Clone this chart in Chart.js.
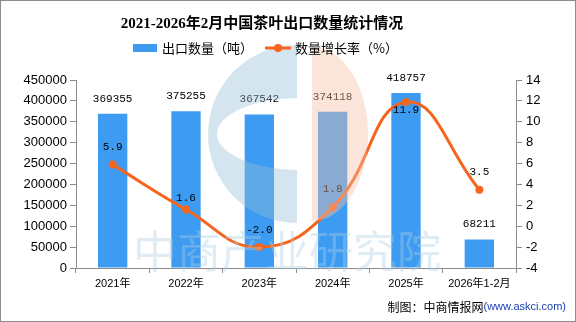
<!DOCTYPE html>
<html>
<head>
<meta charset="utf-8">
<script src="https://cdn.jsdelivr.net/npm/chart.js@4/dist/chart.umd.min.js"></script>
<style>
  html, body { margin: 0; padding: 0; background: #fff; }
  #wrap { width: 576px; height: 322px; }
</style>
</head>
<body>
<div id="wrap"><canvas id="chart" width="576" height="322"></canvas></div>
<script>
const categories = ['2021年', '2022年', '2023年', '2024年', '2025年', '2026年1-2月'];
const exportVolume = [369355, 375255, 367542, 374118, 418757, 68211];
const growthRate = [5.9, 1.6, -2.0, 1.8, 11.9, 3.5];
const growthLabels = ['5.9', '1.6', '-2.0', '1.8', '11.9', '3.5'];

// label offsets above the points (styling only)
const growthLabelLift = [18, 11, 17, 18, -8, 18];

const BAR_COLOR = '#3d9cf2';
const LINE_COLOR = '#f5651e';
const CJK = '"Noto Sans CJK SC"';

const overlay = {
  id: 'overlay',
  afterDatasetsDraw(chart) {
    const ctx = chart.ctx;
    ctx.save();
    ctx.fillStyle = '#000';
    ctx.textAlign = 'center';
    ctx.textBaseline = 'middle';
    ctx.font = '11px "Liberation Mono"';
    chart.getDatasetMeta(0).data.forEach((bar, i) => {
      ctx.fillText(String(exportVolume[i]), bar.x, bar.y - 15);
    });
    chart.getDatasetMeta(1).data.forEach((pt, i) => {
      ctx.fillText(growthLabels[i], pt.x, pt.y - growthLabelLift[i]);
    });
    ctx.restore();
  },
  afterDraw(chart) {
    const ctx = chart.ctx;
    ctx.save();

    // watermark logo: blue "C" on the left half
    ctx.save();
    ctx.beginPath();
    ctx.rect(0, 0, 297, 322);
    ctx.clip();
    ctx.fillStyle = 'rgba(150, 190, 215, 0.4)';
    ctx.beginPath();
    ctx.arc(297, 134, 89, 0, Math.PI * 2);
    ctx.ellipse(300, 134, 83, 36, 0, 0, Math.PI * 2, true);
    ctx.fill('evenodd');
    ctx.restore();

    ctx.fillStyle = 'rgba(245, 190, 165, 0.42)';
    ctx.beginPath();
    ctx.ellipse(312, 134, 56, 87, 0, -Math.PI / 2, Math.PI / 2, false);
    ctx.closePath();
    ctx.fill();

    // watermark text
    ctx.fillStyle = 'rgba(170, 204, 226, 0.38)';
    ctx.font = '44px ' + CJK;
    ctx.textAlign = 'center';
    ctx.textBaseline = 'middle';
    ctx.fillText('中商产业研究院', 287, 251);

    // title
    ctx.fillStyle = '#000';
    ctx.font = 'bold 15px "Liberation Serif", ' + CJK;
    ctx.fillText('2021-2026年2月中国茶叶出口数量统计情况', 262, 24);

    // legend
    ctx.fillStyle = BAR_COLOR;
    ctx.fillRect(133, 44, 24, 8);
    ctx.fillStyle = '#000';
    ctx.font = '13px ' + CJK;
    ctx.textAlign = 'left';
    ctx.fillText('出口数量（吨）', 162, 48);

    ctx.strokeStyle = LINE_COLOR;
    ctx.lineWidth = 3;
    ctx.beginPath();
    ctx.moveTo(265, 48);
    ctx.lineTo(291, 48);
    ctx.stroke();
    ctx.fillStyle = LINE_COLOR;
    ctx.beginPath();
    ctx.arc(278, 48, 4, 0, Math.PI * 2);
    ctx.fill();
    ctx.fillStyle = '#000';
    ctx.fillText('数量增长率（%）', 295, 48);

    // source note
    ctx.textAlign = 'right';
    ctx.font = '11px "Liberation Sans"';
    ctx.fillStyle = '#1a3fb0';
    const src = '(www.askci.com)';
    ctx.fillText(src, 566, 307);
    const w = ctx.measureText(src).width;
    ctx.fillStyle = '#000';
    ctx.font = '12px ' + CJK;
    ctx.fillText('制图：中商情报网', 566 - w, 307);

    // frame
    ctx.strokeStyle = '#8c8c8c';
    ctx.lineWidth = 1;
    ctx.strokeRect(0.5, 0.5, 575, 321);
    ctx.restore();
  }
};

const axisColor = '#8c8c8c';
const tickFont = { family: '"Liberation Sans"', size: 13 };

new Chart(document.getElementById('chart').getContext('2d'), {
  data: {
    labels: categories,
    datasets: [
      {
        type: 'bar',
        label: '出口数量（吨）',
        data: exportVolume,
        backgroundColor: BAR_COLOR,
        yAxisID: 'y',
        barPercentage: 0.4,
        categoryPercentage: 1,
        order: 1
      },
      {
        type: 'line',
        label: '数量增长率（%）',
        data: growthRate,
        borderColor: LINE_COLOR,
        backgroundColor: LINE_COLOR,
        borderWidth: 3,
        pointRadius: 4,
        pointBackgroundColor: LINE_COLOR,
        pointBorderWidth: 0,
        tension: 0.45,
        yAxisID: 'y1',
        order: 0
      }
    ]
  },
  options: {
    responsive: false,
    animation: false,
    layout: { padding: { top: 80, left: 0, right: 0, bottom: 0 } },
    plugins: {
      legend: { display: false },
      title: { display: false },
      tooltip: { enabled: false }
    },
    scales: {
      x: {
        offset: true,
        grid: { display: true, offset: true, drawOnChartArea: false, tickLength: 5, color: axisColor },
        border: { color: axisColor },
        ticks: { color: '#000', font: { family: '"Liberation Sans", ' + CJK, size: 11 }, padding: 4, maxRotation: 0 },
        afterFit: (s) => { s.height = 54; }
      },
      y: {
        position: 'left',
        min: 0,
        max: 450000,
        ticks: { stepSize: 50000, color: '#000', font: tickFont, padding: 3, callback: (v) => String(v) },
        grid: { drawOnChartArea: false, tickLength: 6, color: axisColor },
        border: { color: axisColor },
        afterFit: (s) => { s.width = 76; }
      },
      y1: {
        position: 'right',
        min: -4,
        max: 14,
        ticks: { stepSize: 2, color: '#000', font: tickFont, padding: 4, callback: (v) => String(v) },
        grid: { drawOnChartArea: false, tickLength: 6, color: axisColor },
        border: { color: axisColor },
        afterFit: (s) => { s.width = 60; }
      }
    }
  },
  plugins: [overlay]
});
</script>
</body>
</html>
